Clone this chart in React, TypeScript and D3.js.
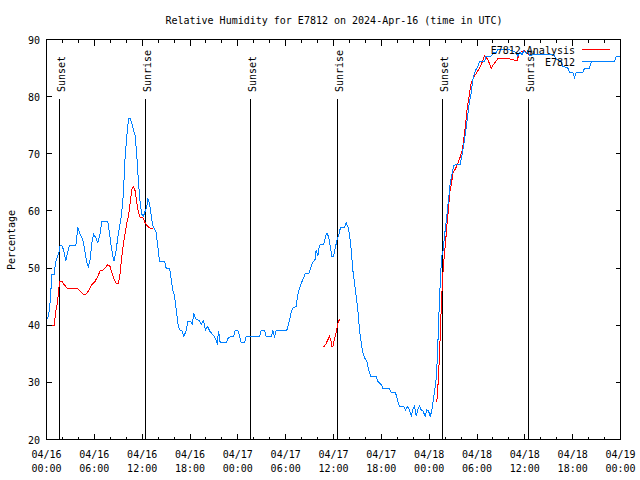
import { line, scaleLinear, scaleUtc, utcHour } from "d3";

// hours after 2024-04-16 00:00 UTC
const observedHours = [
  0.13, 0.38, 0.54, 0.66, 0.97, 1.13, 1.38, 1.59, 1.72, 1.92, 2.13, 2.42, 2.63, 2.89, 3.68, 3.93, 4.14, 4.43, 4.64, 4.85,
  5.06, 5.23, 5.48, 5.68, 5.9, 6.18, 6.44, 6.74, 6.94, 7.69, 7.9, 8.12, 8.32, 8.49, 8.74, 9.03, 9.32, 9.57, 9.75, 9.87,
  10.07, 10.29, 10.5, 10.7, 10.91, 11.13, 11.33, 11.54, 11.75, 11.95, 12.17, 12.38, 12.58, 12.71, 12.92, 13.08, 13.33,
  13.76, 13.96, 14.17, 14.8, 15.01, 15.43, 15.64, 15.84, 16.06, 16.27, 16.47, 16.68, 17.02, 17.22, 17.52, 17.72, 18.03,
  18.28, 18.48, 18.78, 19.19, 19.41, 19.69, 19.94, 20.23, 20.45, 21.07, 21.41, 21.58, 21.79, 22.54, 22.83, 23.46, 23.67,
  24.0, 24.21, 24.42, 24.84, 25.05, 26.72, 26.93, 27.35, 27.56, 28.19, 28.39, 28.6, 28.81, 30.14, 30.39, 30.69, 30.9,
  31.32, 31.52, 31.82, 32.15, 32.45, 32.9, 33.12, 33.4, 33.7, 33.83, 34.03, 34.24, 34.46, 34.75, 35.08, 35.21, 35.41,
  35.59, 35.79, 36.0, 36.21, 36.41, 36.67, 36.88, 37.38, 37.59, 37.79, 38.01, 38.22, 38.42, 38.63, 38.85, 39.05, 39.26,
  39.48, 39.68, 39.89, 40.18, 40.39, 40.64, 41.36, 41.56, 41.98, 42.19, 42.94, 43.24, 43.78, 44.07, 44.28, 44.78, 45.03,
  45.32, 45.53, 45.75, 45.95, 46.16, 46.37, 46.57, 46.79, 47.0, 47.2, 47.5, 47.7, 47.92, 48.13, 48.33, 48.46, 48.67,
  48.84, 48.96, 49.08, 49.21, 49.34, 49.42, 49.59, 49.71, 49.84, 49.92, 50.14, 50.43, 50.64, 50.89, 51.09, 51.39, 51.89,
  52.14, 52.43, 52.72, 52.97, 53.27, 53.47, 53.69, 53.9, 54.1, 54.31, 54.94, 55.15, 55.78, 56.07, 56.4, 56.61, 58.08,
  58.49, 58.91, 59.12, 59.42, 59.62, 59.87, 60.17, 60.37, 60.59, 60.8, 61.0, 63.64, 63.94, 64.57, 64.77, 65.39, 65.6,
  66.02, 66.23, 66.44, 67.27, 67.49, 68.11, 68.33, 71.25, 71.46, 71.88
];
const observedValues = [
  41, 42.7, 45.7, 48.9, 48.9, 51, 52, 52.9, 54, 54, 53.2, 51.2, 52.7, 54, 54, 57.1, 56.2, 55.3, 54.5, 52.7,
  51, 50.2, 51.5, 54.4, 55.9, 55.3, 54.4, 56.2, 58.1, 58.1, 56.2, 53.8, 52.1, 51.2, 53.2, 56.2, 58.5, 61.5, 66.1, 69.6,
  73.1, 76.1, 76.1, 75.4, 74.2, 73.1, 69.6, 64.9, 61.4, 59.4, 59.1, 60, 60.8, 62.1, 61.4, 59.7, 57.4,
  56.2, 53.8, 51.2, 51.2, 50, 50, 48, 46.2, 45.1, 42.7, 40.4, 39.2, 39, 38.1, 39, 40.7, 40.7,
  40.2, 42, 41, 40.8, 40.1, 40.8, 39.2, 39.8, 39, 38, 36.9, 39, 36.9, 36.9, 37.9, 38, 39.1,
  39.1, 38.1, 36.9, 36.9, 38, 38, 39.1, 39.1, 38, 38, 39, 38, 39.1, 39.1, 40.4, 42.2, 43,
  43.3, 45.4, 46.8, 48, 49, 49, 50, 51, 51.5, 53.2, 52.1, 54, 54.1, 54.1, 55.9, 56.1, 55.3,
  53.8, 52.1, 52.1, 53.5, 54.7, 55.9, 57.1, 57.1, 57.9, 57.3, 55.9, 53.2, 49.7, 47.4, 45.1, 42.7, 39.2,
  36.9, 35.2, 34.3, 33.7, 32.3, 31.1, 31.1, 30.2, 29.6, 29, 29, 28.2, 28.2, 26.7, 25.8, 25.8, 25.2,
  25.8, 25.2, 24.1, 25.2, 25.8, 24.1, 25.2, 25.8, 25.2, 25, 24.1, 25.2, 25, 24.1, 25, 26.4, 28.4,
  30, 32.3, 36.3, 41.6, 45.7, 48.6, 52.1, 52.7, 54.4, 55.6, 58.2, 62, 64.9, 66.7, 68, 68.1, 68.1,
  69.9, 72.5, 75.4, 78.3, 80.7, 83, 84.2, 84.8, 85.3, 86.2, 86.2, 87.1, 87.1, 87.7, 87.7, 88.2, 88.2,
  88, 87.7, 87.1, 87.8, 87.3, 88, 87.6, 88, 87.3, 87.1, 87.4, 87.3, 86.5, 86.2, 85.3, 85, 84.3,
  84.3, 83.3, 84.2, 84.2, 85, 85, 86.1, 86.1, 87.1, 87.1
];

// null marks a gap in the analysis record
const analysisHours = [
  0.66, 0.97, 1.13, 1.29, 1.51, 1.63, 1.92, 2.22, 2.63, 3.3, 3.93, 4.23, 4.64, 4.93, 5.27, 5.68, 6.11, 6.44, 6.74, 7.06,
  7.36, 7.65, 7.99, 8.19, 8.49, 8.74, 9.03, 9.24, 9.45, 9.66, 9.87, 10.07, 10.29, 10.5, 10.7, 10.91, 11.13, 11.33, 11.54,
  11.75, 12.08, 12.38, 12.67, 13.01, 13.33, 20,
  34.78, 35.08, 35.5, 35.72, 35.79, 35.91, 36.04, 36.21, 36.34, 36.47, 36.63, 36.84, 42,
  48.96, 49.08, 49.21, 49.34, 49.42, 49.55, 49.67, 49.87, 50.05, 50.25, 50.38, 50.59, 50.8, 51.0, 51.34, 51.63, 51.93,
  52.18, 52.38, 52.59, 52.76, 53.01, 53.27, 53.69, 54.1, 54.53, 54.94, 55.36, 55.78, 56.2, 56.61, 58.08, 58.7, 59.07,
  59.24, 59.54, 59.96, 60.37, 60.8
];
const analysisValues = [
  39.9, 39.9, 42.2, 43.3, 45.7, 47.7, 47.7, 47.1, 46.4, 46.5, 46.4, 46, 45.4, 45.4, 46, 47.1, 47.7, 48.6, 49.5, 49.6,
  50, 50.6, 50.3, 49.2, 48, 47.3, 47.3, 49.2, 52.1, 54.4, 56.2, 57.9, 59.1, 61.4, 63.8, 64.2, 63.5, 61.4, 59.7,
  58.8, 58.8, 57.9, 57.3, 57, 57, null,
  36.2, 36.8, 38.1, 37, 36.2, 36.2, 37, 38.1, 38.7, 39.8, 40.7, 41.1, null,
  26.6, 28.8, 32.3, 36.3, 40.1, 43.9, 48, 51.8, 54.4, 57.9, 59.7, 63.2, 64.9, 66.7, 67.5, 68.4, 69.6,
  70.8, 73.1, 75.4, 77.8, 80.1, 82.4, 83.6, 84.5, 85.6, 87.1, 86.5, 85, 85.9, 86.6, 86.6, 86.4, 86.4,
  87.4, 87.8, 88, 87.5, 87.1
];

const sunEvents = ["Sunset", "Sunrise", "Sunset", "Sunrise", "Sunset", "Sunrise"];
const sunEventTimes = [
  "2024-04-16T01:32Z", "2024-04-16T12:22Z", "2024-04-17T01:28Z",
  "2024-04-17T12:24Z", "2024-04-18T01:35Z", "2024-04-18T12:21Z"
];

const yTicks = [20, 30, 40, 50, 60, 70, 80, 90];
const seriesNames = ["E7812 Analysis", "E7812"];
const seriesColors = ["#ff0000", "#0080ff"];

const start = new Date("2024-04-16T00:00Z");
const end = new Date("2024-04-19T00:00Z");
const font = "'DejaVu Sans Mono', monospace";

const pad2 = (n: number) => String(n).padStart(2, "0");
const hoursToDate = (h: number) => new Date(start.getTime() + h * 3600 * 1000);

export default function App() {
  const left = 46.5;
  const right = 620.5;
  const top = 39.5;
  const bottom = 439.5;

  const x = scaleUtc().domain([start, end]).range([left, right]);
  const y = scaleLinear().domain([20, 90]).range([bottom, top]);

  const majorTicks = utcHour.every(6)!.range(start, new Date(end.getTime() + 1));
  const minorTicks = utcHour.every(2)!.range(start, new Date(end.getTime() + 1));

  const path = line<[number, number | null]>()
    .defined((d) => d[1] !== null)
    .x((d) => x(hoursToDate(d[0])))
    .y((d) => y(d[1] as number));

  const observedPath = path(observedHours.map((h, i) => [h, observedValues[i]]));
  const analysisPath = path(analysisHours.map((h, i) => [h, analysisValues[i]]));

  return (
    <svg width={640} height={480} style={{ position: "fixed", left: 0, top: 0, background: "#fff" }} fontFamily={font} fontSize={10}>
      <rect x={0} y={0} width={640} height={480} fill="#fff" />
      <text x={334} y={24} textAnchor="middle">Relative Humidity for E7812 on 2024-Apr-16 (time in UTC)</text>

      {yTicks.map((t) => (
        <g key={t}>
          <line x1={left} x2={left + 5} y1={y(t)} y2={y(t)} stroke="#000" shapeRendering="crispEdges" />
          <line x1={right - 5} x2={right} y1={y(t)} y2={y(t)} stroke="#000" shapeRendering="crispEdges" />
          <text x={40} y={y(t) + 4} textAnchor="end">{t}</text>
        </g>
      ))}

      {minorTicks.map((d) => {
        const len = d.getUTCHours() % 6 === 0 ? 6 : 3;
        return (
          <g key={d.getTime()}>
            <line x1={x(d)} x2={x(d)} y1={bottom} y2={bottom - len} stroke="#000" shapeRendering="crispEdges" />
            <line x1={x(d)} x2={x(d)} y1={top} y2={top + len} stroke="#000" shapeRendering="crispEdges" />
          </g>
        );
      })}

      {majorTicks.map((d) => (
        <g key={d.getTime()}>
          <text x={x(d)} y={458} textAnchor="middle">{`${pad2(d.getUTCMonth() + 1)}/${pad2(d.getUTCDate())}`}</text>
          <text x={x(d)} y={472} textAnchor="middle">{`${pad2(d.getUTCHours())}:${pad2(d.getUTCMinutes())}`}</text>
        </g>
      ))}

      <text transform="translate(15, 240) rotate(-90)" textAnchor="middle">Percentage</text>

      {sunEventTimes.map((t, i) => {
        const ex = Math.round(x(new Date(t))) + 0.5;
        return (
          <g key={t}>
            <line x1={ex} x2={ex} y1={99} y2={bottom} stroke="#000" shapeRendering="crispEdges" />
            <text transform={`translate(${ex + 5.5}, 92) rotate(-90)`}>{sunEvents[i]}</text>
          </g>
        );
      })}

      <path d={analysisPath ?? ""} fill="none" stroke={seriesColors[0]} strokeWidth={1} shapeRendering="crispEdges" />
      <path d={observedPath ?? ""} fill="none" stroke={seriesColors[1]} strokeWidth={1} shapeRendering="crispEdges" />

      {seriesNames.map((name, i) => (
        <g key={name}>
          <text x={575} y={54 + i * 12} textAnchor="end">{name}</text>
          <line x1={582} x2={610} y1={49.5 + i * 12} y2={49.5 + i * 12} stroke={seriesColors[i]} shapeRendering="crispEdges" />
        </g>
      ))}

      <rect x={left} y={top} width={right - left} height={bottom - top} fill="none" stroke="#000" shapeRendering="crispEdges" />
    </svg>
  );
}
